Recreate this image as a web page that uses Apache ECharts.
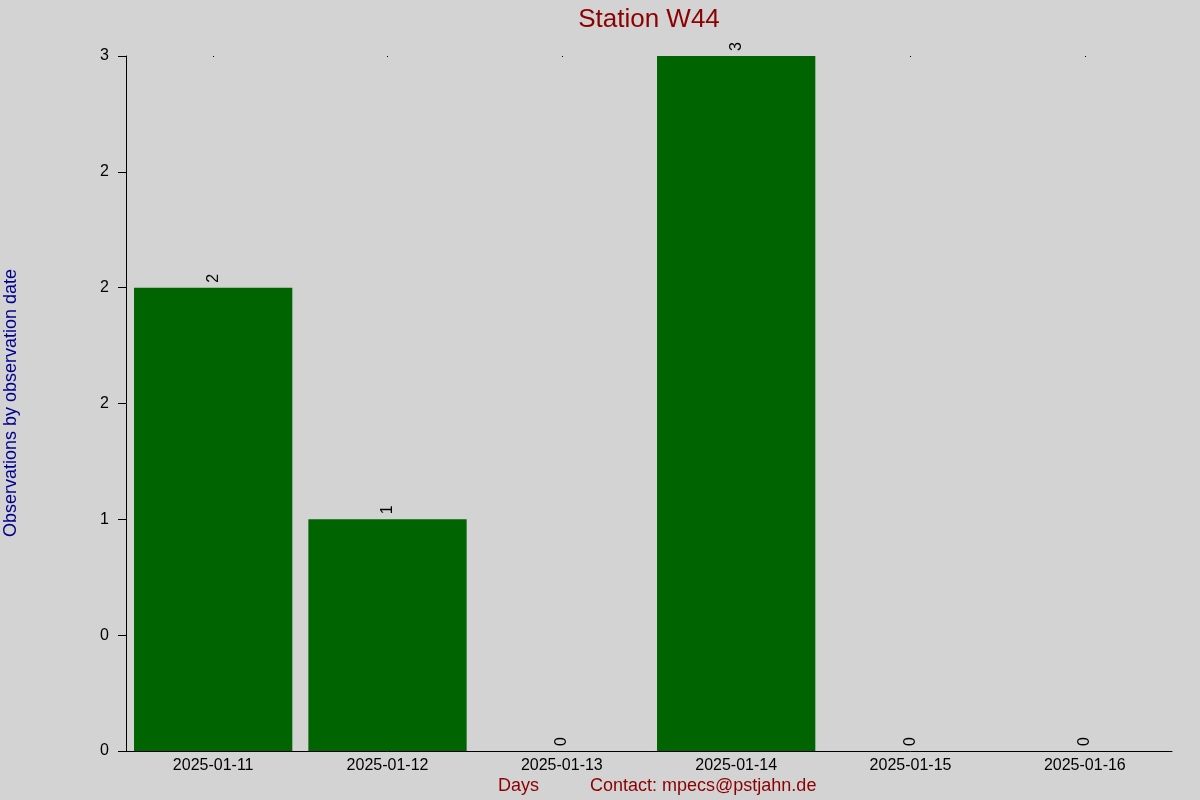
<!DOCTYPE html>
<html>
<head>
<meta charset="utf-8">
<script src="https://cdn.jsdelivr.net/npm/echarts@6/dist/echarts.min.js"></script>
<style>
html,body{margin:0;padding:0;background:#d3d3d3;}
#chart{width:1200px;height:800px;}
</style>
</head>
<body>
<div id="chart"></div>
<script>
const titleText = 'Station W44';
const categories = ['2025-01-11','2025-01-12','2025-01-13','2025-01-14','2025-01-15','2025-01-16'];
const observations = [2, 1, 0, 3, 0, 0];
const yTickValues = [0, 0.5, 1, 1.5, 2, 2.5, 3];
const yTickLabels = ['0','0','1','2','2','2','3'];
const yAxisTitle = 'Observations by observation date';
const xAxisTitle = 'Days';
const contactText = 'Contact: mpecs@pstjahn.de';

const FONT = '"Liberation Sans", Arial, sans-serif';
const chart = echarts.init(document.getElementById('chart'), null, {renderer:'canvas'});
chart.setOption({
  backgroundColor: '#d3d3d3',
  animation: false,
  title: {
    text: titleText,
    left: 644, top: 2, textAlign: 'center',
    textStyle: {color:'#8b0000', fontSize:26, fontWeight:'normal', fontFamily:FONT}
  },
  grid: {left:126, right:28, top:56, bottom:49, containLabel:false},
  xAxis: [{
    type:'category', data:categories, position:'bottom',
    axisLine:{show:true, lineStyle:{color:'#000', width:1}},
    axisTick:{show:false},
    axisLabel:{color:'#000', fontSize:16, fontFamily:FONT, margin:7, interval:0},
    splitLine:{show:false}
  },{
    type:'category', data:categories, position:'top',
    axisLine:{show:false},
    axisTick:{show:true, alignWithLabel:true, inside:true, length:1, lineStyle:{color:'#000'}},
    axisLabel:{show:false},
    splitLine:{show:false}
  }],
  yAxis: {
    type:'value', min:0, max:3, interval:0.5,
    axisLine:{show:true, lineStyle:{color:'#000', width:1}},
    axisTick:{show:true, length:8, lineStyle:{color:'#000'}},
    splitLine:{show:false},
    axisLabel:{
      color:'#000', fontSize:16, fontFamily:FONT, margin:17,
      formatter: function(v){
        const i = yTickValues.findIndex(t => Math.abs(t - v) < 1e-9);
        return i >= 0 ? yTickLabels[i] : '';
      }
    }
  },
  series: [{
    type:'bar', data:observations, xAxisIndex:0,
    barCategoryGap:'9.2%',
    itemStyle:{color:'#006400'},
    label:{
      show:true, position:'top', distance:5, rotate:90,
      align:'left', verticalAlign:'middle',
      color:'#000', fontSize:16, fontFamily:FONT
    }
  }],
  graphic: [
    {type:'text', x:11, y:403, rotation:Math.PI/2,
     style:{text:yAxisTitle, fill:'#00008b', font:'18px '+FONT, textAlign:'center', textVerticalAlign:'middle'}},
    {type:'text', x:498, y:786,
     style:{text:xAxisTitle, fill:'#8b0000', font:'18px '+FONT, textAlign:'left', textVerticalAlign:'middle'}},
    {type:'text', x:590, y:786,
     style:{text:contactText, fill:'#8b0000', font:'18px '+FONT, textAlign:'left', textVerticalAlign:'middle'}}
  ]
});
</script>
</body>
</html>
